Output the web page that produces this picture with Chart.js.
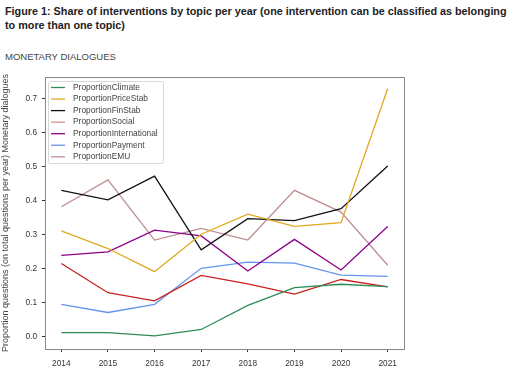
<!DOCTYPE html>
<html><head><meta charset="utf-8">
<script src="https://cdn.jsdelivr.net/npm/chart.js@4.4.1/dist/chart.umd.min.js"></script>
<style>
html,body{margin:0;padding:0;background:#fff;width:512px;height:383px;overflow:hidden;font-family:"Liberation Sans",Arial,sans-serif;}
#t{position:absolute;left:5px;top:4px;font-size:10.8px;font-weight:bold;color:#222;line-height:14px;white-space:nowrap;}
#s{position:absolute;left:5px;top:51px;font-size:9.5px;color:#444;}
#wrap{position:absolute;left:0;top:0;width:512px;height:383px;}
</style></head><body>
<div id="t">Figure 1: Share of interventions by topic per year (one intervention can be classified as belonging<br>to more than one topic)</div>
<div id="s">MONETARY DIALOGUES</div>
<div id="wrap"><canvas id="c" width="512" height="383"></canvas></div>
<script>
const years = [2014, 2015, 2016, 2017, 2018, 2019, 2020, 2021];
const climate       = [0.012, 0.012, 0.002, 0.021, 0.092, 0.144, 0.154, 0.147];
const priceStab     = [0.311, 0.259, 0.191, 0.301, 0.360, 0.324, 0.335, 0.729];
const finStab       = [0.430, 0.402, 0.472, 0.255, 0.347, 0.341, 0.376, 0.502];
const social        = [0.215, 0.129, 0.105, 0.180, 0.155, 0.125, 0.168, 0.146];
const international = [0.239, 0.249, 0.313, 0.296, 0.193, 0.286, 0.196, 0.324];
const payment       = [0.095, 0.071, 0.095, 0.201, 0.219, 0.216, 0.181, 0.177];
const emu           = [0.382, 0.461, 0.284, 0.318, 0.284, 0.430, 0.366, 0.210];
const yTicks = [0.0, 0.1, 0.2, 0.3, 0.4, 0.5, 0.6, 0.7];
const seriesNames = ["ProportionClimate","ProportionPriceStab","ProportionFinStab","ProportionSocial","ProportionInternational","ProportionPayment","ProportionEMU"];
const seriesData = [climate, priceStab, finStab, social, international, payment, emu];
const colors = ["#2e8b57","#e0a820","#111111","#c8201e","#8b008b","#6495ed","#bc8f8f"];
const legendColors = ["#2e8b57","#e0a820","#111111","#dd8f8f","#8b008b","#6495ed","#bc8f8f"];

const datasets = seriesNames.map((n,i)=>({
  label:n,
  data: years.map((y,j)=>({x:y,y:seriesData[i][j]})),
  borderColor: colors[i], backgroundColor: colors[i],
  borderWidth:1.3, pointRadius:0, tension:0, fill:false
}));

const FONT = {family:'"Liberation Sans", Arial, sans-serif', size:8.3};

const frame = {
  id:'frame',
  afterDatasetsDraw(chart){
    const {ctx, chartArea:a} = chart;
    ctx.save();
    ctx.strokeStyle = '#888'; ctx.lineWidth = 1;
    ctx.strokeRect(Math.round(a.left)+0.5, Math.round(a.top)+0.5, Math.round(a.right-a.left), Math.round(a.bottom-a.top));
    // legend
    const x0 = 48, y0 = 81, w = 115, h = 82;
    ctx.fillStyle = 'rgba(255,255,255,0.85)';
    ctx.strokeStyle = '#d8d8d8';
    ctx.beginPath();
    if (ctx.roundRect) ctx.roundRect(x0+0.5,y0+0.5,w,h,2); else ctx.rect(x0+0.5,y0+0.5,w,h);
    ctx.fill(); ctx.stroke();
    ctx.font = '8.4px "Liberation Sans", Arial, sans-serif';
    ctx.textBaseline = 'middle';
    seriesNames.forEach((n,i)=>{
      const yy = y0 + 6.5 + i*11.55;
      ctx.strokeStyle = legendColors[i]; ctx.lineWidth = 1.3;
      ctx.beginPath(); ctx.moveTo(x0+3, yy); ctx.lineTo(x0+17, yy); ctx.stroke();
      ctx.fillStyle = '#444';
      ctx.fillText(n, x0+25, yy);
    });
    ctx.restore();
  }
};

new Chart(document.getElementById('c'), {
  type:'line',
  data:{datasets},
  plugins:[frame],
  options:{
    responsive:false, animation:false,
    layout:{padding:{top:77, right:108, left:0, bottom:0}},
    plugins:{legend:{display:false}, tooltip:{enabled:false}},
    scales:{
      x:{
        type:'linear', min:2013.65, max:2021.35,
        afterBuildTicks(s){ s.ticks = years.map(v=>({value:v})); },
        afterFit(s){ s.height = 34; },
        grid:{display:true, drawOnChartArea:false, drawTicks:true, tickLength:3, color:'#333'},
        border:{display:false},
        ticks:{font:FONT, color:'#333', padding:7, maxRotation:0, callback:v=>String(v)}
      },
      y:{
        type:'linear', min:-0.0364, max:0.7634,
        afterBuildTicks(s){ s.ticks = yTicks.map(v=>({value:v})); },
        afterFit(s){ s.width = 45; },
        grid:{display:true, drawOnChartArea:false, drawTicks:true, tickLength:3, color:'#333'},
        border:{display:false},
        title:{display:true, text:'Proportion questions (on total questions per year) Monetary dialogues', font:{family:FONT.family, size:9}, color:'#444', padding:{top:0,bottom:5}},
        ticks:{font:FONT, color:'#333', padding:5, callback:v=>v.toFixed(1)}
      }
    }
  }
});
</script>
</body></html>
